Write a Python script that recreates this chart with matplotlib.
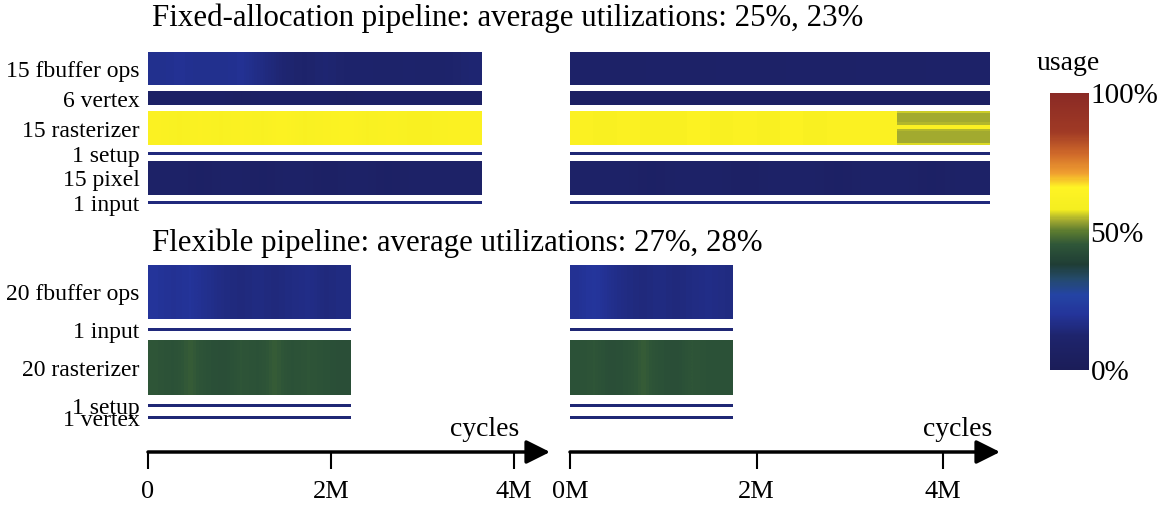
import numpy as np
import matplotlib.pyplot as plt
from matplotlib.colors import LinearSegmentedColormap, Normalize
from matplotlib.cm import ScalarMappable

plt.rcParams['font.family'] = ['Liberation Serif', 'DejaVu Serif']

# ---- data ----
fixed_units = [15, 6, 15, 1, 15, 1]
fixed_names = ["fbuffer ops", "vertex", "rasterizer", "setup", "pixel", "input"]
flex_units = [20, 1, 20, 1, 1]
flex_names = ["fbuffer ops", "input", "rasterizer", "setup", "vertex"]

fixed_avg = [25, 23]
flex_avg = [27, 28]

# run length of each simulation, in M cycles (left, right)
fixed_len = [3.64, 4.5]
flex_len = [2.21, 1.74]

# usage (%) per time bin, one list per stage (same order as names)
fixed_a_usage = [
    [18, 19, 18, 18, 19, 16, 13, 12, 13, 12, 12, 11, 12, 11, 12, 13],
    [8, 8, 8, 8, 7, 8, 8, 8, 8, 7, 8, 8, 8, 8, 8, 8],
    [63, 62, 63, 62, 63, 62, 64, 62, 63, 64, 62, 63, 62, 62, 63, 63],
    [15, 15, 15, 15, 15, 15, 15, 15, 15, 15, 15, 15, 15, 15, 15, 15],
    [9, 9, 8, 9, 9, 8, 9, 9, 8, 9, 9, 8, 9, 9, 9, 9],
    [15, 15, 15, 15, 15, 15, 15, 15, 15, 15, 15, 15, 15, 15, 15, 15],
]
fixed_b_usage = [
    [10, 10, 9, 10, 10, 9, 10, 10, 9, 10, 10, 9, 10, 10, 9, 10, 10, 10],
    [7, 7, 7, 7, 7, 7, 7, 7, 7, 7, 7, 7, 7, 7, 7, 7, 7, 7],
    None,  # rasterizer, per-row table below
    [14, 14, 14, 14, 14, 14, 14, 14, 14, 14, 14, 14, 14, 14, 14, 14, 14, 14],
    [9, 9, 9, 8, 9, 9, 9, 8, 9, 9, 9, 8, 9, 9, 9, 8, 9, 9],
    [15, 15, 15, 15, 15, 15, 15, 15, 15, 15, 15, 15, 15, 15, 15, 15, 15, 15],
]
# right-panel rasterizer: 14 yellow bins, then 4 bins where rows differ
fixed_b_raster_head = [63, 62, 63, 62, 62, 64, 62, 63, 62, 64, 62, 63, 63, 63]
fixed_b_raster_tail_rows = [56, 54, 54, 54, 54, 55, 63, 63, 55, 54, 54, 54, 54, 54, 57]

flex_a_usage = [
    [20, 19, 20, 18, 16, 15, 16, 15, 16, 17, 15, 16],
    [15, 15, 15, 15, 15, 15, 15, 15, 15, 15, 15, 15],
    [45, 44, 46, 44, 43, 45, 44, 46, 44, 45, 44, 43],
    [14, 14, 14, 14, 14, 14, 14, 14, 14, 14, 14, 14],
    [14, 14, 14, 14, 14, 14, 14, 14, 14, 14, 14, 14],
]
flex_b_usage = [
    [19, 21, 18, 16, 15, 16, 15, 16, 17, 16],
    [14, 14, 14, 14, 14, 14, 14, 14, 14, 14],
    [44, 45, 43, 44, 46, 44, 43, 45, 44, 44],
    [14, 14, 14, 14, 14, 14, 14, 14, 14, 14],
    [14, 14, 14, 14, 14, 14, 14, 14, 14, 14],
]

# colour scale
cmap = LinearSegmentedColormap.from_list("usage", [
    (0.00, "#1b1d58"), (0.12, "#1e246c"), (0.20, "#24349a"), (0.27, "#2444a4"),
    (0.33, "#244a6a"), (0.38, "#1f3d35"), (0.45, "#2e5538"), (0.50, "#5a7a30"),
    (0.54, "#a0a830"), (0.58, "#f4ee20"), (0.66, "#fff424"), (0.71, "#f0a030"),
    (0.78, "#d06a2a"), (0.86, "#a03a25"), (1.00, "#8a2a25")])
norm = Normalize(0, 100)

W, H = 1172, 512
fig = plt.figure(figsize=(W / 100, H / 100), dpi=100)


def draw_panel(rect, xmax, units, names, usage, length, gap, labels, special=None):
    ax = fig.add_axes(rect)
    y = 0
    centers = []
    for i, n in enumerate(units):
        if usage[i] is None:
            data = special
            interp = "nearest"
        else:
            data = np.array([usage[i]])
            interp = "bilinear"
        ax.imshow(data, cmap=cmap, norm=norm, aspect="auto", interpolation=interp,
                  extent=(0, length, y + n, y), origin="upper")
        centers.append(y + n / 2)
        y += n + gap
    ax.set_xlim(0, xmax)
    ax.set_ylim(y - gap, 0)
    for s in ax.spines.values():
        s.set_visible(False)
    ax.set_xticks([])
    if labels:
        ax.set_yticks(centers)
        ax.set_yticklabels([f"{n} {nm}" for n, nm in zip(units, names)], fontsize=17)
        ax.tick_params(axis="y", length=0, pad=6)
    else:
        ax.set_yticks([])
    return ax


# column geometry (pixels)
colL = (148, 550, 91.5)
colR = (570, 1000, 93.25)

tail = np.array(fixed_b_raster_tail_rows)[:, None] * np.ones((1, 4))
head = np.array(fixed_b_raster_head)[None, :] * np.ones((len(fixed_b_raster_tail_rows), 1))
raster_b = np.hstack([head, tail])

for col, usage_f, usage_x, lf, lx, lab, spec, cyc_x in [
        (colL, fixed_a_usage, flex_a_usage, fixed_len[0], flex_len[0], True, None, 0.838),
        (colR, fixed_b_usage, flex_b_usage, fixed_len[1], flex_len[1], False, raster_b, 0.902)]:
    x0, x1, ppm = col
    xmax = (x1 - x0) / ppm
    draw_panel([x0 / W, 1 - 204 / H, (x1 - x0) / W, 152 / H], xmax,
               fixed_units, fixed_names, usage_f, lf, 3.2, lab, spec)
    draw_panel([x0 / W, 1 - 419 / H, (x1 - x0) / W, 154 / H], xmax,
               flex_units, flex_names, usage_x, lx, 3.4, lab)

    # cycles axis with arrow
    ax = fig.add_axes([x0 / W, 1 - 452 / H, (x1 - x0) / W, 0.01])
    ax.set_xlim(0, xmax)
    ax.set_ylim(0, 1)
    for s in ax.spines.values():
        s.set_visible(False)
    ax.set_yticks([])
    ax.set_xticks([0, 2, 4])
    ax.set_xticklabels(["0" if lab else "0M", "2M", "4M"], fontsize=19)
    ax.tick_params(axis="x", direction="out", length=12, width=1.5, pad=9)
    ax.annotate("", xy=(1, 0), xytext=(0, 0), xycoords="axes fraction",
                arrowprops=dict(arrowstyle="-|>", lw=2.5, color="black",
                                mutation_scale=36, shrinkA=0, shrinkB=0))
    ax.annotate("cycles", xy=(cyc_x, 0), xycoords="axes fraction",
                xytext=(0, 22), textcoords="offset pixels",
                ha="center", va="center", fontsize=20)

fig.text(152 / W, 1 - 18 / H,
         f"Fixed-allocation pipeline: average utilizations: {fixed_avg[0]}%, {fixed_avg[1]}%",
         ha="left", va="center", fontsize=22.2)
fig.text(152 / W, 1 - 243 / H,
         f"Flexible pipeline: average utilizations: {flex_avg[0]}%, {flex_avg[1]}%",
         ha="left", va="center", fontsize=22.2)

# colour bar
cax = fig.add_axes([1050 / W, 1 - 370 / H, 39 / W, 277 / H])
cb = fig.colorbar(ScalarMappable(norm=norm, cmap=cmap), cax=cax, ticks=[0, 50, 100])
cb.outline.set_visible(False)
cb.ax.set_yticklabels(["0%", "50%", "100%"])
cb.ax.tick_params(length=0, labelsize=21, pad=1)
fig.text(1068 / W, 1 - 63 / H, "usage", ha="center", va="center", fontsize=20)

plt.savefig("out.png", dpi=100)
